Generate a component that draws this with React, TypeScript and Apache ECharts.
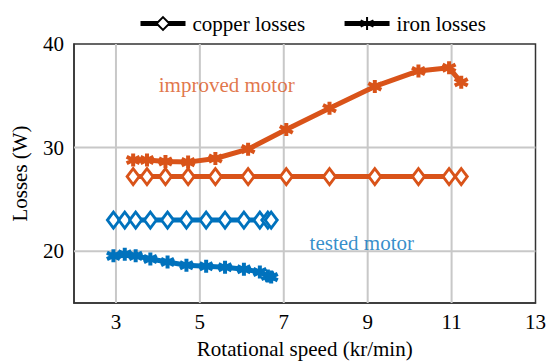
import React, { useEffect, useRef } from 'react';
import * as echarts from 'echarts';

// ---- data ----
const xTickValues = [3, 5, 7, 9, 11, 13];
const yTickValues = [20, 30, 40];
const xGridValues = [3, 5, 7, 9, 11];
const yGridValues = [20, 30];
const xRange = [2, 13];
const yRange = [15, 40];

const improvedSpeed = [3.41, 3.74, 4.18, 4.72, 5.37, 6.15, 7.06, 8.09, 9.17, 10.21, 10.94, 11.23];
const improvedIron = [28.8, 28.8, 28.65, 28.6, 28.95, 29.85, 31.75, 33.8, 35.9, 37.4, 37.7, 36.3];
const improvedCopper = [27.2, 27.2, 27.2, 27.2, 27.2, 27.2, 27.2, 27.2, 27.2, 27.2, 27.2, 27.2];

const testedSpeed = [2.94, 3.21, 3.47, 3.82, 4.23, 4.68, 5.15, 5.6, 6.05, 6.43, 6.62, 6.7];
const testedIron = [19.55, 19.7, 19.55, 19.25, 18.95, 18.65, 18.55, 18.45, 18.25, 18.0, 17.6, 17.5];
const testedCopper = [23, 23, 23, 23, 23, 23, 23, 23, 23, 23, 23, 23];

const annotations = [
  { text: 'improved motor', x: 5.64, y: 36.0, color: '#D95319' },
  { text: 'tested motor', x: 8.86, y: 20.8, color: '#0072BD' },
];

const ORANGE = '#D95319';
const BLUE = '#0072BD';
const GRID_COLOR = '#c8c8c8';
const FRAME_COLOR = '#333333';
const FONT = "'Liberation Serif', 'Times New Roman', serif";
const FS = 21;
const ASTERISK = 'path://M0,-10L0,10M-8.66,-5L8.66,5M-8.66,5L8.66,-5';

const zip = (xs: number[], ys: number[]) => xs.map((x, i) => [x, ys[i]]);

export default function App() {
  const ref = useRef<HTMLDivElement>(null);
  useEffect(() => {
    if (!ref.current) return;
    const chart = echarts.init(ref.current, null, { renderer: 'svg' });
    const copperSeries = (name: string, xs: number[], ys: number[], color: string) => ({
      name,
      type: 'line',
      data: zip(xs, ys),
      symbol: 'diamond',
      symbolSize: [12, 16],
      lineStyle: { color, width: 5 },
      itemStyle: { color: '#fff', borderColor: color, borderWidth: 3 },
      z: 3,
    });
    const ironSeries = (name: string, xs: number[], ys: number[], color: string) => ({
      name,
      type: 'line',
      data: zip(xs, ys),
      symbol: ASTERISK,
      symbolSize: 13,
      lineStyle: { color, width: 5 },
      itemStyle: { color, borderColor: color, borderWidth: 4 },
      z: 3,
    });
    const gridLineSeries = (pts: number[][]) => ({
      type: 'line',
      data: pts,
      symbol: 'none',
      silent: true,
      z: 1,
      lineStyle: { color: GRID_COLOR, width: 2 },
    });
    chart.setOption({
      animation: false,
      textStyle: { fontFamily: FONT },
      legend: {
        left: 133,
        top: 8,
        itemWidth: 45,
        itemHeight: 16,
        itemGap: 37,
        selectedMode: false,
        lineStyle: { width: 5 },
        textStyle: { fontFamily: FONT, fontSize: FS, color: '#000', padding: [0, 0, 0, 2] },
        data: ['copper losses', 'iron losses'],
      },
      grid: {
        left: 74,
        right: 10,
        top: 44,
        bottom: 56,
        show: true,
        borderColor: FRAME_COLOR,
        borderWidth: 1.5,
        backgroundColor: 'rgba(0,0,0,0)',
      },
      xAxis: {
        type: 'value',
        min: xRange[0],
        max: xRange[1],
        interval: 1,
        name: 'Rotational speed (kr/min)',
        nameLocation: 'middle',
        nameGap: 35,
        nameTextStyle: { fontFamily: FONT, fontSize: FS, color: '#000' },
        axisLine: { show: true, onZero: false, lineStyle: { color: FRAME_COLOR, width: 1.5 } },
        axisTick: { show: false },
        axisLabel: {
          fontFamily: FONT, fontSize: FS, color: '#000', margin: 8,
          formatter: (v: number) => (xTickValues.includes(v) ? String(v) : ''),
        },
        splitLine: { show: false },
      },
      yAxis: {
        type: 'value',
        min: yRange[0],
        max: yRange[1],
        interval: 5,
        name: 'Losses (W)',
        nameLocation: 'middle',
        nameGap: 44,
        nameTextStyle: { fontFamily: FONT, fontSize: FS, color: '#000' },
        axisLine: { show: true, onZero: false, lineStyle: { color: FRAME_COLOR, width: 1.5 } },
        axisTick: { show: false },
        axisLabel: {
          fontFamily: FONT, fontSize: FS, color: '#000', margin: 10,
          formatter: (v: number) => (yTickValues.includes(v) ? String(v) : ''),
        },
        splitLine: { show: false },
      },
      series: [
        ...xGridValues.map((v) => gridLineSeries([[v, yRange[0]], [v, yRange[1]]])),
        ...yGridValues.map((v) => gridLineSeries([[xRange[0], v], [xRange[1], v]])),
        {
          name: 'copper losses', type: 'line', data: [], symbol: 'diamond', symbolSize: [12, 16],
          lineStyle: { color: '#000', width: 5 }, itemStyle: { color: '#fff', borderColor: '#000', borderWidth: 3 },
        },
        {
          name: 'iron losses', type: 'line', data: [], symbol: ASTERISK, symbolSize: 13,
          lineStyle: { color: '#000', width: 5 }, itemStyle: { color: '#000', borderColor: '#000', borderWidth: 4 },
        },
        copperSeries('improved copper', improvedSpeed, improvedCopper, ORANGE),
        ironSeries('improved iron', improvedSpeed, improvedIron, ORANGE),
        copperSeries('tested copper', testedSpeed, testedCopper, BLUE),
        ironSeries('tested iron', testedSpeed, testedIron, BLUE),
        {
          name: 'annotations',
          type: 'scatter',
          symbolSize: 0,
          silent: true,
          data: annotations.map((a) => ({
            value: [a.x, a.y],
            label: {
              show: true,
              position: 'inside',
              formatter: a.text,
              color: a.color,
              fontFamily: FONT,
              fontSize: FS,
            },
          })),
        },
      ],
    });

    return () => chart.dispose();
  }, []);
  return <div ref={ref} style={{ width: 549, height: 364, position: 'absolute', left: 0, top: 0 }} />;
}
